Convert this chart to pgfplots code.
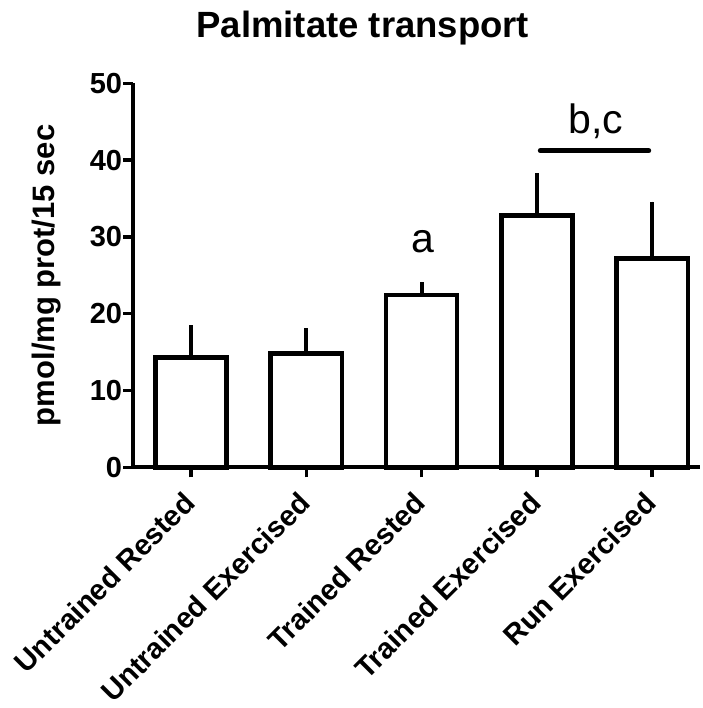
\documentclass[border=0pt]{standalone}
\usepackage{pgfplots}
\pgfplotsset{compat=1.18}
\usepackage{pgfplotstable}
\usepackage{fontspec}
\setmainfont{Liberation Sans}

\pgfplotstableread{
x  y     e
0  14.3  4.2
1  14.8  3.3
2  22.45 1.7
3  32.8  5.5
4  27.2  7.4
}\bars

\begin{document}
\begin{tikzpicture}
\begin{axis}[
  name=ax,
  scale only axis,
  width=566.7pt, height=384pt,
  xmin=-0.5, xmax=4.415,
  ymin=0, ymax=50,
  axis lines*=left,
  axis line style={line width=4pt, black},
  clip=false,
  ytick={0,10,...,50},
  xtick={0,1,2,3,4},
  xticklabels={Untrained Rested, Untrained Exercised, Trained Rested, Trained Exercised, Run Exercised},
  tick align=outside,
  major tick length=10pt,
  tick style={line width=3.5pt, black},
  /pgf/number format/assume math mode=true,
  yticklabel style={font=\fontsize{29}{29}\selectfont\bfseries, inner sep=1pt},
  xticklabel style={font=\fontsize{29}{29}\selectfont\bfseries, rotate=45, anchor=east, inner sep=2pt},
  xticklabel shift=19pt,
  title={Palmitate transport},
  title style={font=\fontsize{36.5}{36.5}\selectfont\bfseries, at={(axis description cs:0.405,1)}, anchor=base, yshift=40pt},
  ylabel={pmol/mg prot/15 sec},
  ylabel style={font=\fontsize{31}{31}\selectfont\bfseries, at={(axis description cs:0,0.5)}, anchor=center, yshift=87pt},
]
\addplot[ybar, bar width=71.2pt, fill=white, draw=black, line width=4.5pt,
  error bars/.cd, y dir=plus, y explicit, error mark=none,
  error bar style={line width=4pt, black}]
  table[x=x, y=y, y error=e] {\bars};
\addplot[line width=5pt, line cap=round, black, no marks] coordinates {(3.03,41.22) (3.97,41.22)};
\node[font=\fontsize{41}{41}\selectfont, anchor=base] at (axis cs:2.01,27.94) {a};
\node[font=\fontsize{41}{41}\selectfont, anchor=base] at (axis cs:3.513,43.49) {b,c};
\end{axis}
\pgfresetboundingbox
\path[use as bounding box] ([xshift=-133.3pt, yshift=-240.7pt]ax.south west) rectangle ([xshift=2pt, yshift=83.3pt]ax.north east);
\end{tikzpicture}
\end{document}
